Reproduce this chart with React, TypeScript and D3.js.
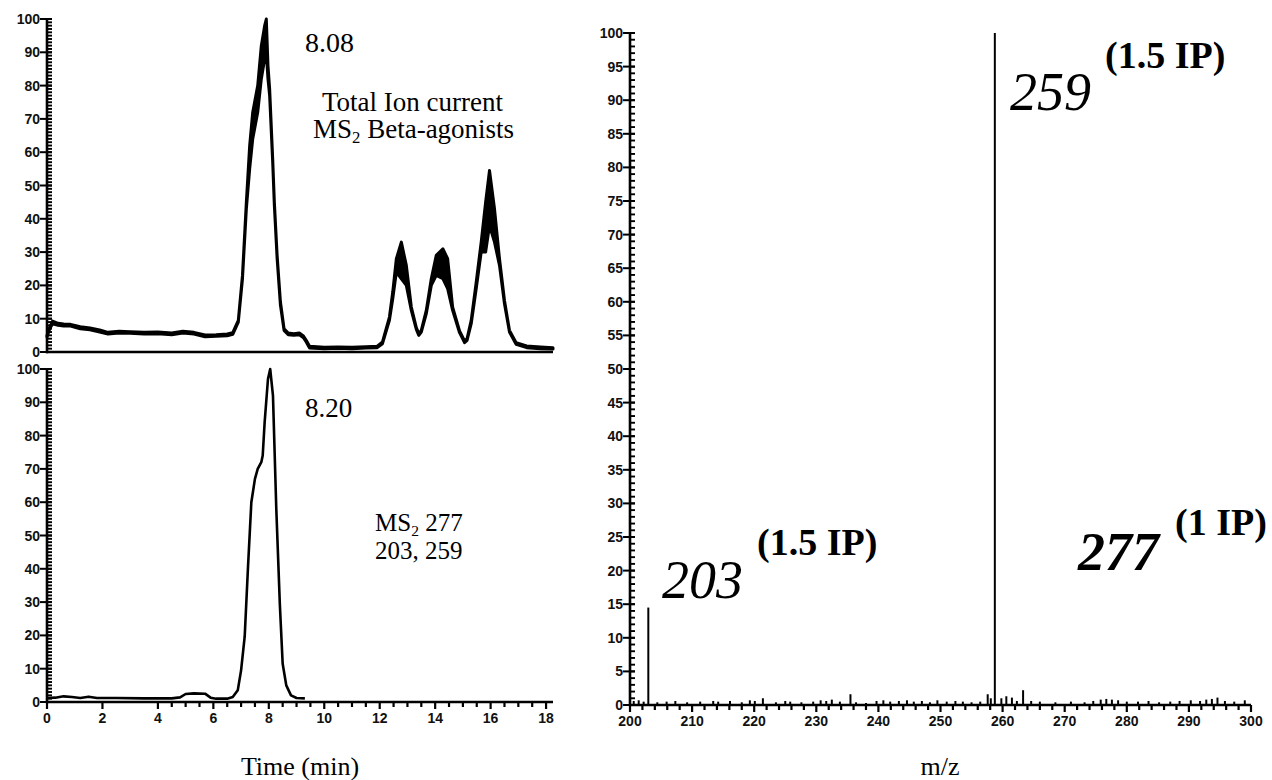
import React from "react"
import * as d3 from "d3"

// top trace: total ion current. [time, lower edge, upper edge] - the band is the noise
const ticTrace = [
  [0, 4.5, 5], [0.1, 7, 7.5], [0.2, 8.5, 9.3], [0.4, 8, 8.6], [0.6, 7.8, 8.4], [0.85, 7.8, 8.3],
  [1.2, 7, 7.6], [1.55, 6.7, 7.2], [1.9, 6, 6.6], [2.2, 5.4, 5.9], [2.6, 5.7, 6.2], [3.0, 5.6, 6.1],
  [3.5, 5.4, 5.9], [4.0, 5.5, 6.0], [4.5, 5.2, 5.7], [4.9, 5.7, 6.2], [5.3, 5.4, 5.9], [5.7, 4.6, 5.1],
  [6.1, 4.7, 5.2], [6.5, 4.9, 5.4], [6.7, 5.3, 5.8], [6.9, 9, 9.5], [7.05, 22, 23], [7.19, 43, 45],
  [7.31, 55, 62], [7.42, 64, 72], [7.6, 72, 80], [7.73, 82, 92], [7.85, 88, 98], [7.91, 90, 100],
  [7.97, 82, 86], [8.03, 77, 79], [8.14, 57, 58], [8.2, 44, 45], [8.3, 28, 29], [8.42, 14, 15],
  [8.55, 6.5, 7], [8.7, 5.2, 5.7], [8.9, 5.0, 5.5], [9.1, 5.2, 5.7], [9.25, 4.3, 4.8], [9.35, 3, 3.5],
  [9.47, 1.2, 1.7], [10.0, 1.0, 1.4], [10.5, 1.1, 1.5], [11.0, 1.0, 1.4], [11.5, 1.2, 1.6], [11.9, 1.3, 1.7],
  [12.1, 2.5, 3], [12.35, 9.5, 10.5], [12.47, 16, 18], [12.6, 24, 28], [12.78, 22, 33], [12.96, 20, 26],
  [13.14, 12.5, 13.5], [13.32, 6.8, 7.3], [13.41, 5, 5.5], [13.5, 6, 6.5], [13.68, 11.5, 12.5],
  [13.86, 20, 22], [14.04, 23, 29], [14.28, 22, 31], [14.45, 19, 28], [14.63, 12.5, 13.5], [14.88, 5.8, 6.3],
  [15.06, 2.8, 3.3], [15.15, 3.5, 4], [15.3, 8.5, 9.5], [15.48, 19, 21], [15.66, 30, 33], [15.82, 30, 45],
  [15.96, 38, 54.5], [16.14, 33, 43], [16.32, 26, 28], [16.5, 14.5, 15.5], [16.68, 6, 6.5],
  [16.92, 2.3, 2.8], [17.3, 1.3, 1.8], [17.8, 1.0, 1.5], [18.25, 0.9, 1.3],
]

// bottom trace: MS2 277 -> 203, 259. [time, relative abundance]
const xicTrace = [
  [0, 1.2], [0.3, 1.3], [0.6, 1.7], [0.9, 1.5], [1.2, 1.2], [1.5, 1.6], [1.8, 1.2], [2.5, 1.2],
  [3.5, 1.1], [4.5, 1.1], [4.8, 1.4], [5.0, 2.4], [5.3, 2.6], [5.7, 2.5], [5.9, 1.3], [6.1, 1.0],
  [6.5, 1.0], [6.7, 1.5], [6.88, 3.5], [7.0, 9.5], [7.13, 19.6], [7.25, 40.6], [7.37, 60], [7.5, 67],
  [7.6, 70], [7.73, 72], [7.78, 74], [7.85, 84], [7.97, 97], [8.05, 100], [8.15, 92], [8.27, 58],
  [8.4, 29], [8.5, 11.5], [8.63, 5], [8.8, 2], [9.0, 1.2], [9.3, 1.1],
]

// product ion spectrum, [m/z, relative intensity]
const spectrum = [
  [200.6, 0.6], [201.4, 0.7], [202.2, 0.5], [202.95, 14.5], [204.4, 0.4], [205.9, 0.5], [207.3, 0.6],
  [209.2, 0.4], [211.3, 0.5], [213.4, 0.6], [214.2, 0.5], [216.1, 0.6], [218.0, 0.4], [219.3, 0.7],
  [220.1, 0.6], [221.4, 1.0], [223.5, 0.4], [225.0, 0.6], [225.8, 0.5], [227.6, 0.4], [229.5, 0.5],
  [230.7, 0.7], [231.6, 0.6], [232.5, 0.8], [233.8, 0.5], [235.5, 1.6], [236.4, 0.4], [238.0, 0.3],
  [239.7, 0.6], [240.8, 0.7], [241.9, 0.5], [243.3, 0.6], [244.6, 0.7], [245.7, 0.5], [247.0, 0.6],
  [248.3, 0.4], [249.5, 0.7], [251.0, 0.5], [252.4, 0.6], [253.6, 0.5], [255.0, 0.4], [256.4, 0.5],
  [257.6, 1.6], [258.1, 1.0], [258.75, 100], [259.8, 1.0], [260.6, 1.3], [261.5, 1.1], [262.3, 0.6],
  [263.3, 2.2], [264.6, 0.6], [266.0, 0.5], [268.5, 0.4], [271.0, 0.5], [273.2, 0.4], [274.6, 0.6],
  [275.8, 0.8], [276.7, 0.9], [277.6, 0.8], [278.6, 0.7], [280.0, 0.5], [281.8, 0.5], [283.5, 0.6],
  [285.2, 0.4], [287.0, 0.5], [288.5, 0.6], [290.3, 0.7], [291.8, 0.6], [292.8, 0.8], [293.7, 0.9],
  [294.6, 1.1], [295.8, 0.6], [297.3, 0.5], [299.0, 0.7],
]

const timeTicks = d3.range(0, 19, 2)
const timeMinor = d3.range(4.5, 18.1, 0.5).filter(d => d % 2 !== 0)
const pctTicks10 = d3.range(0, 101, 10)
const pctTicks5 = d3.range(0, 101, 5)
const pctMinor = d3.range(1, 100, 1)
const mzTicks = d3.range(200, 301, 10)
const mzMinor = d3.range(202, 300, 2).filter(d => d % 10 !== 0)

const sans = "'Liberation Sans', Arial, sans-serif"
const serif = "'Liberation Serif', 'Times New Roman', serif"

// scales
const xTime = d3.scaleLinear().domain([0, 18.25]).range([47, 553])
const yTop = d3.scaleLinear().domain([0, 100]).range([352, 19])
const yBot = d3.scaleLinear().domain([0, 100]).range([702, 369])
const xMz = d3.scaleLinear().domain([200, 300]).range([630, 1251])
const yMs = d3.scaleLinear().domain([0, 100]).range([705, 33])

// percent axis: major ticks outward with labels, dense minor ticks inward
function YAxis({ scale, x, major }: any) {
  const [y0, y1] = scale.range()
  return (
    <g>
      {pctMinor.map(d => (
        <line key={"m" + d} x1={x} x2={x + 5} y1={scale(d)} y2={scale(d)} stroke="#000" strokeWidth={1.9} />
      ))}
      <line x1={x} x2={x} y1={y0 + 1.2} y2={y1 - 1} stroke="#000" strokeWidth={2.6} />
      {major.map((d: number) => (
        <g key={d}>
          <line x1={x - 7} x2={x + 5} y1={scale(d)} y2={scale(d)} stroke="#000" strokeWidth={2} />
          <text x={x - 7} y={scale(d)} dy="0.36em" textAnchor="end" fontFamily={sans}
            fontSize={14} fontWeight="bold" fill="#111">{d}</text>
        </g>
      ))}
    </g>
  )
}

function XAxis({ scale, y, major, minor }: any) {
  const [x0, x1] = scale.range()
  return (
    <g>
      <line x1={x0 - 1} x2={x1} y1={y} y2={y} stroke="#000" strokeWidth={2.6} />
      {minor.map((d: number) => (
        <line key={"m" + d} x1={scale(d)} x2={scale(d)} y1={y} y2={y + 5} stroke="#000" strokeWidth={2.2} />
      ))}
      {major.map((d: number) => (
        <g key={d}>
          <line x1={scale(d)} x2={scale(d)} y1={y} y2={y + 7} stroke="#000" strokeWidth={2.2} />
          <text x={scale(d)} y={y + 21} textAnchor="middle" fontFamily={sans}
            fontSize={14} fontWeight="bold" fill="#111">{d}</text>
        </g>
      ))}
    </g>
  )
}

function Ms2({ x, y, size, rest }: any) {
  return (
    <text x={x} y={y} fontFamily={serif} fontSize={size} fill="#000">
      MS<tspan dy={5} fontSize={size * 0.62}>2</tspan><tspan dy={-5}>{" " + rest}</tspan>
    </text>
  )
}

export default function App() {
  const ticArea = d3.area<number[]>()
    .x(d => xTime(d[0]))
    .y0(d => yTop(d[1]))
    .y1(d => yTop(d[2]))
  const xicLine = d3.line<number[]>()
    .x(d => xTime(d[0]))
    .y(d => yBot(d[1]))

  return (
    <svg width={1272} height={780}
      style={{ position: "absolute", left: 0, top: 0, background: "#fff" }}>
      <YAxis scale={yTop} x={47} major={pctTicks10} />
      <line x1={46} x2={553} y1={yTop(0)} y2={yTop(0)} stroke="#000" strokeWidth={2.6} />
      <YAxis scale={yBot} x={47} major={pctTicks10} />
      <XAxis scale={xTime} y={yBot(0)} major={timeTicks} minor={timeMinor} />
      <YAxis scale={yMs} x={630} major={pctTicks5} />
      <XAxis scale={xMz} y={yMs(0)} major={mzTicks} minor={mzMinor} />

      <path d={ticArea(ticTrace as any) || ""} fill="#000" stroke="#000" strokeWidth={3} strokeLinejoin="round" />
      <path d={xicLine(xicTrace as any) || ""} fill="none" stroke="#000" strokeWidth={2.6} strokeLinejoin="round" />

      {spectrum.map(d => (
        <line key={d[0]} x1={xMz(d[0])} x2={xMz(d[0])} y1={yMs(0)} y2={yMs(d[1])}
          stroke="#000" strokeWidth={2} />
      ))}

      <text x={305} y={52} fontFamily={serif} fontSize={28}>8.08</text>
      <text x={322} y={111} fontFamily={serif} fontSize={27}>Total Ion current</text>
      <Ms2 x={313} y={138} size={27} rest="Beta-agonists" />
      <text x={305} y={417} fontFamily={serif} fontSize={27}>8.20</text>
      <Ms2 x={375} y={531} size={25} rest="277" />
      <text x={375} y={559} fontFamily={serif} fontSize={25}>203, 259</text>
      <text x={300} y={775} fontFamily={serif} fontSize={26} textAnchor="middle">Time (min)</text>
      <text x={940} y={775} fontFamily={serif} fontSize={26} textAnchor="middle">m/z</text>

      <text x={1010} y={110} fontFamily={serif} fontSize={54} fontStyle="italic">259</text>
      <text x={1105} y={68} fontFamily={serif} fontSize={38} fontWeight="bold">(1.5 IP)</text>
      <text x={662} y={598} fontFamily={serif} fontSize={54} fontStyle="italic">203</text>
      <text x={757} y={555} fontFamily={serif} fontSize={38} fontWeight="bold">(1.5 IP)</text>
      <text x={1078} y={570} fontFamily={serif} fontSize={54} fontStyle="italic" fontWeight="bold">277</text>
      <text x={1175} y={535} fontFamily={serif} fontSize={38} fontWeight="bold">(1 IP)</text>
    </svg>
  )
}
